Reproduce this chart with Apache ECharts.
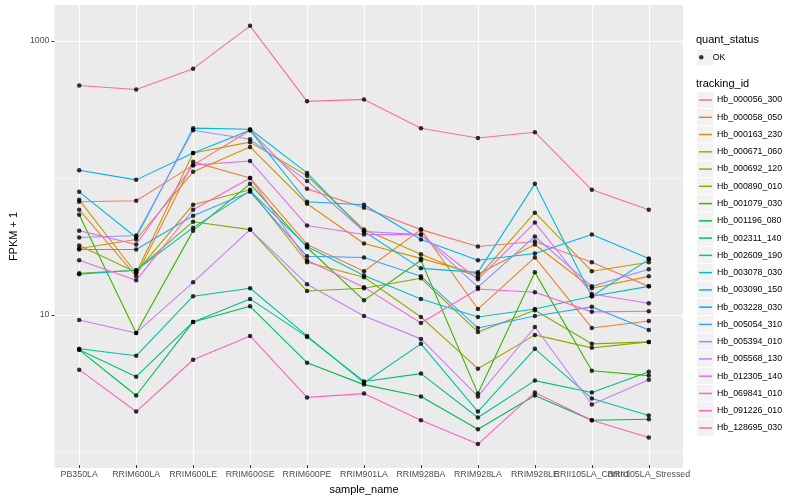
<!DOCTYPE html>
<html><head><meta charset="utf-8">
<script src="https://cdn.jsdelivr.net/npm/echarts@6/dist/echarts.min.js"></script>
<style>html,body{margin:0;padding:0;background:#fff}#c{width:800px;height:500px}</style>
</head><body><div id="c"></div>
<script>
const categories = ['PB350LA','RRIM600LA','RRIM600LE','RRIM600SE','RRIM600PE','RRIM901LA','RRIM928BA','RRIM928LA','RRIM928LE','RRII105LA_Control','RRII105LA_Stressed'];
const trackingIds = ['Hb_000056_300','Hb_000058_050','Hb_000163_230','Hb_000671_060','Hb_000692_120','Hb_000890_010','Hb_001079_030','Hb_001196_080','Hb_002311_140','Hb_002609_190','Hb_003078_030','Hb_003090_150','Hb_003228_030','Hb_005054_310','Hb_005394_010','Hb_005568_130','Hb_012305_140','Hb_069841_010','Hb_091226_010','Hb_128695_030'];

const Hb_000056_300 = [65.7, 66.8, 122, 220, 81.7, 59.4, 41.0, 30.8, 33.5, 23.6, 15.7];
const Hb_000058_050 = [57.4, 18.6, 129, 98.3, 31.9, 20.3, 41.0, 10.7, 25.6, 7.77, 8.74];
const Hb_000163_230 = [29.8, 34.7, 109, 166, 63.5, 32.4, 25.2, 19.3, 31.9, 15.2, 18.6];
const Hb_000671_060 = [67.9, 19.6, 150, 180, 102, 41.0, 27.0, 18.3, 54.6, 20.3, 23.6];
const Hb_000692_120 = [31.4, 19.9, 62.5, 80.4, 23.6, 18.3, 9.35, 3.90, 6.91, 5.55, 6.14];
const Hb_000890_010 = [19.6, 20.6, 46.9, 41.0, 14.5, 15.2, 18.0, 7.27, 10.5, 5.94, 6.14];
const Hb_001079_030 = [52.8, 7.14, 40.3, 88.9, 30.3, 12.4, 24.4, 2.56, 19.9, 3.77, 3.47];
const Hb_001196_080 = [5.37, 2.48, 8.60, 11.2, 4.32, 2.98, 2.44, 1.40, 2.48, 1.63, 1.66];
const Hb_002311_140 = [5.37, 3.41, 8.60, 12.7, 6.68, 3.14, 3.59, 1.71, 3.19, 2.61, 3.71];
const Hb_002609_190 = [5.46, 4.85, 13.3, 15.2, 6.79, 3.08, 5.94, 1.89, 5.46, 2.36, 1.77];
const Hb_003078_030 = [19.3, 20.6, 42.4, 79.0, 30.8, 18.9, 12.7, 9.35, 10.7, 13.3, 15.7];
const Hb_003090_150 = [77.7, 35.9, 228, 224, 107, 39.7, 21.3, 19.9, 88.9, 13.3, 24.8];
const Hb_003228_030 = [112, 95.1, 150, 220, 65.7, 62.5, 34.7, 24.4, 27.4, 37.7, 25.2];
const Hb_005054_310 = [29.3, 29.3, 51.9, 77.7, 26.1, 25.6, 18.6, 7.77, 9.51, 11.1, 7.51];
const Hb_005394_010 = [35.9, 37.1, 220, 189, 93.5, 39.7, 37.7, 15.5, 36.5, 15.7, 21.0];
const Hb_005568_130 = [8.89, 7.14, 16.8, 41.0, 16.3, 9.51, 6.46, 2.44, 7.90, 2.13, 3.24];
const Hb_012305_140 = [40.3, 31.9, 122, 131, 43.9, 37.7, 37.7, 17.7, 46.2, 13.8, 11.8];
const Hb_069841_010 = [24.4, 17.4, 57.4, 98.3, 24.4, 15.5, 8.45, 15.0, 14.2, 10.2, 10.3];
const Hb_091226_010 = [3.84, 1.89, 4.54, 6.79, 2.40, 2.56, 1.63, 1.09, 2.61, 1.63, 1.22];
const Hb_128695_030 = [469, 439, 624, 1287, 359, 371, 228, 193, 213, 80.4, 57.4];

const seriesValues = [Hb_000056_300, Hb_000058_050, Hb_000163_230, Hb_000671_060, Hb_000692_120, Hb_000890_010, Hb_001079_030, Hb_001196_080, Hb_002311_140, Hb_002609_190, Hb_003078_030, Hb_003090_150, Hb_003228_030, Hb_005054_310, Hb_005394_010, Hb_005568_130, Hb_012305_140, Hb_069841_010, Hb_091226_010, Hb_128695_030];

const yMajorTicks = [10, 1000];
const yMinorTicks = [1, 100];
const yRange = [0.764, 1831];
const quantStatus = ['OK'];

const palette = ['#F8766D','#EA8331','#D89000','#C09B00','#A3A500','#7CAE00','#39B600','#00BB4E','#00BF7D','#00C1A3','#00BFC4','#00BAE0','#00B0F6','#35A2FF','#9590FF','#C77CFF','#E76BF3','#FA62DB','#FF62BC','#FF6C91'];

const FONT = '"Liberation Sans", Arial, Helvetica, sans-serif';
const chart = echarts.init(document.getElementById('c'), null, {renderer: 'canvas'});

const lineSeries = trackingIds.map((id, k) => ({
  name: id, type: 'line', xAxisIndex: 1, yAxisIndex: 2,
  data: seriesValues[k],
  symbol: 'none', lineStyle: {color: palette[k], width: 1.1}, itemStyle: {color: palette[k]},
  z: 2, silent: true, animation: false
}));
const pts = [];
seriesValues.forEach(v => v.forEach((y, i) => pts.push([i, y])));
const okSeries = {
  name: quantStatus[0], type: 'scatter', xAxisIndex: 1, yAxisIndex: 2, data: pts,
  symbol: 'circle', symbolSize: 4.5, itemStyle: {color: '#000'}, z: 5, silent: true, animation: false
};

// legend key backgrounds (ggplot grey95 key boxes)
const ROW = 17.26;
const keyBoxes = [{type: 'rect', left: 697, top: 49, shape: {width: 16.5, height: 16.5}, style: {fill: '#F2F2F2'}, z: -1, silent: true}]
  .concat(trackingIds.map((id, k) => ({type: 'rect', left: 697, top: 91.6 + k * ROW, shape: {width: 16.5, height: ROW - 0.9}, style: {fill: '#F2F2F2'}, z: -1, silent: true})));

const txt = {fontFamily: FONT};
chart.setOption({
  animation: false,
  backgroundColor: '#fff',
  graphic: keyBoxes,
  title: [
    {text: 'quant_status', left: 696, top: 34.5, padding: 0, textStyle: Object.assign({fontSize: 11, fontWeight: 'normal', color: '#000'}, txt)},
    {text: 'tracking_id', left: 696, top: 78, padding: 0, textStyle: Object.assign({fontSize: 11, fontWeight: 'normal', color: '#000'}, txt)}
  ],
  legend: [
    {data: quantStatus, left: 699, top: 51, orient: 'vertical', itemWidth: 13, itemHeight: 4.5, icon: 'circle',
     padding: 0, itemGap: 0, selectedMode: false,
     textStyle: Object.assign({fontSize: 8.8, color: '#000', lineHeight: 12.6}, txt)},
    {data: trackingIds, left: 699, top: 91.4, orient: 'vertical', itemWidth: 13, itemHeight: 1.5, icon: 'rect',
     padding: 0, itemGap: 0, selectedMode: false,
     textStyle: Object.assign({fontSize: 8.8, color: '#000', lineHeight: 17.26}, txt)}
  ],
  grid: [
    {left: 45, top: 5, width: 638, height: 463, show: true, backgroundColor: '#EBEBEB', borderWidth: 0},
    {left: 79.2, top: 5, width: 569.6, height: 463}
  ],
  xAxis: [
    {gridIndex: 0, type: 'value', min: 0, max: 1, show: false},
    {gridIndex: 1, type: 'category', data: categories, boundaryGap: false,
     axisLine: {show: false},
     axisTick: {show: true, length: 3, interval: 0, lineStyle: {color: '#333', width: 1}},
     axisLabel: Object.assign({interval: 0, hideOverlap: false, color: '#4D4D4D', fontSize: 8.8, margin: 5}, txt),
     splitLine: {show: true, interval: 0, lineStyle: {color: '#fff', width: 1.07}},
     name: 'sample_name', nameLocation: 'middle', nameGap: 13,
     nameTextStyle: Object.assign({color: '#000', fontSize: 11}, txt)}
  ],
  yAxis: [
    {gridIndex: 0, type: 'log', position: 'left', min: yRange[0], max: yRange[1],
     axisLine: {show: false}, axisTick: {show: false, customValues: yMinorTicks}, axisLabel: {show: false},
     splitLine: {show: true, lineStyle: {color: '#fff', width: 0.53}}},
    {gridIndex: 0, type: 'log', position: 'left', min: yRange[0], max: yRange[1],
     axisLine: {show: false},
     axisTick: {show: true, length: 3, customValues: yMajorTicks, lineStyle: {color: '#333', width: 1}},
     axisLabel: Object.assign({customValues: yMajorTicks, formatter: v => String(Math.round(v)), color: '#4D4D4D', fontSize: 8.8, margin: 5}, txt),
     splitLine: {show: true, lineStyle: {color: '#fff', width: 1.07}},
     name: 'FPKM + 1', nameLocation: 'middle', nameGap: 28,
     nameTextStyle: Object.assign({color: '#000', fontSize: 11}, txt)},
    {gridIndex: 1, type: 'log', position: 'left', min: yRange[0], max: yRange[1], show: false}
  ],
  series: lineSeries.concat([okSeries])
});
</script></body></html>
